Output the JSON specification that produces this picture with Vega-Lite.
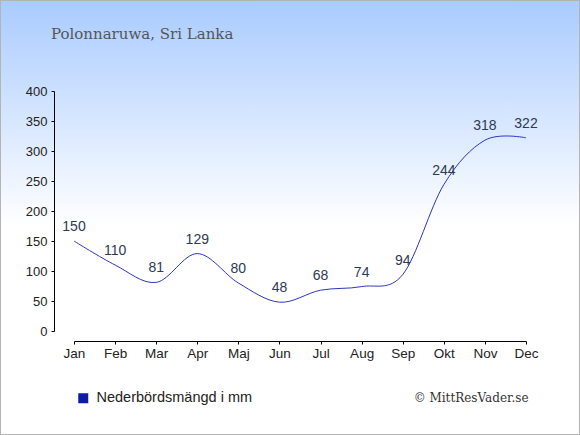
{
  "$schema": "https://vega.github.io/schema/vega-lite/v6.json",
  "width": 580,
  "height": 435,
  "autosize": {"type": "none"},
  "padding": 0,
  "background": "#ffffff",
  "config": {
    "view": {
      "fill": {
        "gradient": "linear",
        "x1": 0, "y1": 0, "x2": 0, "y2": 1,
        "stops": [
          {"offset": 0, "color": "#a9cbff"},
          {"offset": 0.52, "color": "#ffffff"},
          {"offset": 1, "color": "#ffffff"}
        ]
      },
      "stroke": "#b4b4b4",
      "strokeWidth": 2
    },
    "font": "Liberation Sans",
    "axis": {
      "grid": false,
      "domainColor": "#000000",
      "tickColor": "#000000",
      "labelColor": "#222222",
      "labelFont": "Liberation Sans"
    }
  },
  "title": {
    "text": "Polonnaruwa, Sri Lanka",
    "anchor": "start",
    "frame": "group",
    "orient": "top",
    "offset": -54,
    "dx": 51,
    "baseline": "alphabetic",
    "font": "DejaVu Serif",
    "fontSize": 15,
    "fontWeight": "normal",
    "color": "#555555"
  },
  "data": {
    "values": [
      {"month": "Jan", "mm": 150},
      {"month": "Feb", "mm": 110},
      {"month": "Mar", "mm": 81},
      {"month": "Apr", "mm": 129},
      {"month": "Maj", "mm": 80},
      {"month": "Jun", "mm": 48},
      {"month": "Jul", "mm": 68},
      {"month": "Aug", "mm": 74},
      {"month": "Sep", "mm": 94},
      {"month": "Okt", "mm": 244},
      {"month": "Nov", "mm": 318},
      {"month": "Dec", "mm": 322}
    ]
  },
  "encoding": {
    "x": {
      "field": "month",
      "type": "ordinal",
      "sort": null,
      "scale": {"type": "point", "range": [74, 526], "padding": 0},
      "axis": {
        "offset": -94,
        "labelAngle": 0,
        "tickSize": 3,
        "labelPadding": 2,
        "labelFontSize": 13.5,
        "title": "© MittResVader.se",
        "titleFont": "DejaVu Serif",
        "titleFontSize": 12,
        "titleFontWeight": "normal",
        "titleColor": "#333333",
        "titleAlign": "right",
        "titleAnchor": null,
        "titleBaseline": "alphabetic",
        "titleX": 528,
        "titleY": 60
      }
    },
    "y": {
      "field": "mm",
      "type": "quantitative",
      "scale": {"domain": [0, 400], "range": [331, 91], "nice": false, "zero": false},
      "axis": {
        "title": null,
        "offset": -54,
        "values": [0, 50, 100, 150, 200, 250, 300, 350, 400],
        "tickSize": 3,
        "labelPadding": 4,
        "labelFontSize": 13
      }
    }
  },
  "layer": [
    {
      "mark": {"type": "line", "interpolate": "cardinal", "strokeWidth": 1},
      "encoding": {
        "color": {
          "datum": "Nederbördsmängd i mm",
          "scale": {"range": ["#2b35c0"]},
          "legend": {
            "orient": "none",
            "legendX": 76,
            "legendY": 391,
            "title": null,
            "symbolType": "square",
            "symbolSize": 100,
            "labelFontSize": 14.5,
            "labelLimit": 400,
            "labelColor": "#222222",
            "labelFont": "Liberation Sans",
            "labelOffset": 6,
            "encode": {
              "symbols": {
                "update": {
                  "fill": {"value": "#0b1ca6"},
                  "stroke": {"value": "#0b1ca6"},
                  "strokeWidth": {"value": 0}
                }
              }
            }
          }
        }
      }
    },
    {
      "mark": {"type": "text", "dy": -10, "baseline": "alphabetic", "fontSize": 14, "color": "#2c3a55"},
      "encoding": {"text": {"field": "mm", "type": "quantitative"}}
    }
  ]
}
